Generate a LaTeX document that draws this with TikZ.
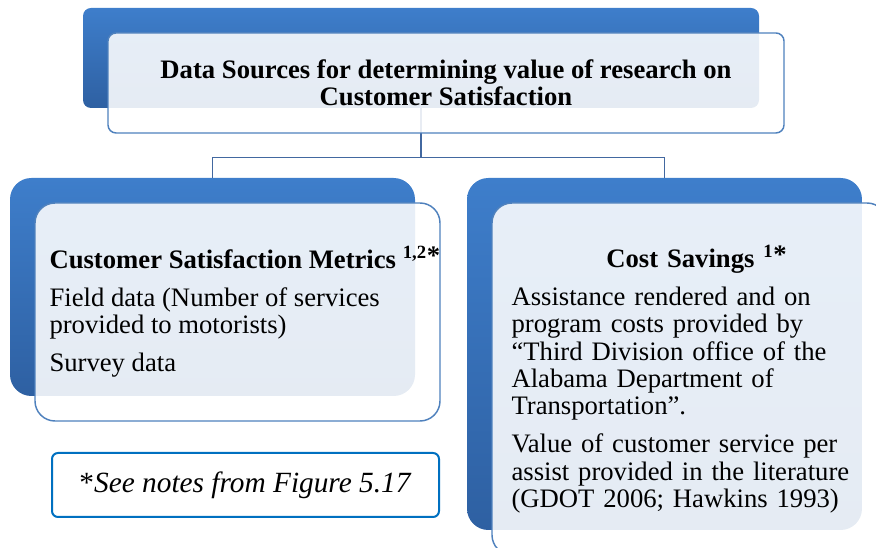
\documentclass[tikz,border=0pt]{standalone}
\usepackage{fontspec}
\setmainfont{Liberation Serif}
\usetikzlibrary{positioning}
\definecolor{smartblue}{RGB}{62, 126, 203}
\definecolor{smartdark}{RGB}{46, 96, 162}
\definecolor{edgeblue}{RGB}{79, 129, 189}
\definecolor{noteblue}{RGB}{0, 112, 192}
\definecolor{linkblue}{RGB}{66, 104, 160}

\begin{document}
\begin{tikzpicture}[
  x=0.75pt, y=-0.75pt,
  back/.style={rounded corners=#1, top color=smartblue, bottom color=smartdark, draw=none, inner sep=0pt},
  front/.style={draw=edgeblue, line width=1.1pt, rounded corners=#1, fill=white, fill opacity=0.88, inner sep=0pt},
  txt/.style={font=\fontsize{20}{20.5}\selectfont, align=left, inner sep=0pt},
  link/.style={draw=linkblue, line width=1.1pt},
]
  \useasboundingbox (0,0) rectangle (876,548);
  \clip (0,0) rectangle (876,548);

  \node[back=6pt, minimum width=507pt, minimum height=75pt] (topback) at (421,58) {};
  \node[back=16pt, minimum width=303.75pt, minimum height=163.5pt] (leftback) at (212.5,287) {};
  \node[back=16pt, minimum width=296.25pt, minimum height=264pt] (rightback) at (664.5,354) {};

  \draw[link] (topback.south) -- ++(0,49) coordinate (split);
  \draw[link] (leftback.north) |- (split) -| (rightback.north);

  \node[front=6pt, minimum width=507pt, minimum height=75pt] (topfront) at (446,83) {};
  \node[front=15pt, minimum width=303.75pt, minimum height=163.5pt] (leftfront) at (237.5,312) {};
  \node[front=15pt, minimum width=296.25pt, minimum height=264pt] (rightfront) at (689.5,379) {};

  \node[txt, align=center, font=\fontsize{20}{20}\selectfont\bfseries] (title) at (topfront.center)
    {Data Sources for determining value of research on\\Customer Satisfaction};

  \node[txt, anchor=west] (metrics) at ([xshift=11.25pt]leftfront.west) {%
    \textbf{Customer Satisfaction Metrics \textsuperscript{1,2}\raisebox{.3ex}{*}}\\[8pt]
    Field data (Number of services\\provided to motorists)\\[8pt]
    Survey data};

  \node[txt, anchor=west, text width=277.5pt] (savings) at ([xshift=15pt]rightfront.west) {%
    \makebox[\linewidth]{\textbf{Cost Savings \textsuperscript{1}\raisebox{.3ex}{*}}}\\[8pt]
    Assistance rendered and on\\program costs provided by\\``Third Division office of the\\Alabama Department of\\Transportation''.\\[8pt]
    Value of customer service per\\assist provided in the literature\\(GDOT 2006; Hawkins 1993)};

  \node[draw=noteblue, line width=1.5pt, rounded corners=4.5pt, minimum width=290.25pt, minimum height=48pt,
        font=\fontsize{22}{22}\selectfont] (note) at (245.5,485) {*\textit{See notes from Figure 5.17}};
\end{tikzpicture}
\end{document}
